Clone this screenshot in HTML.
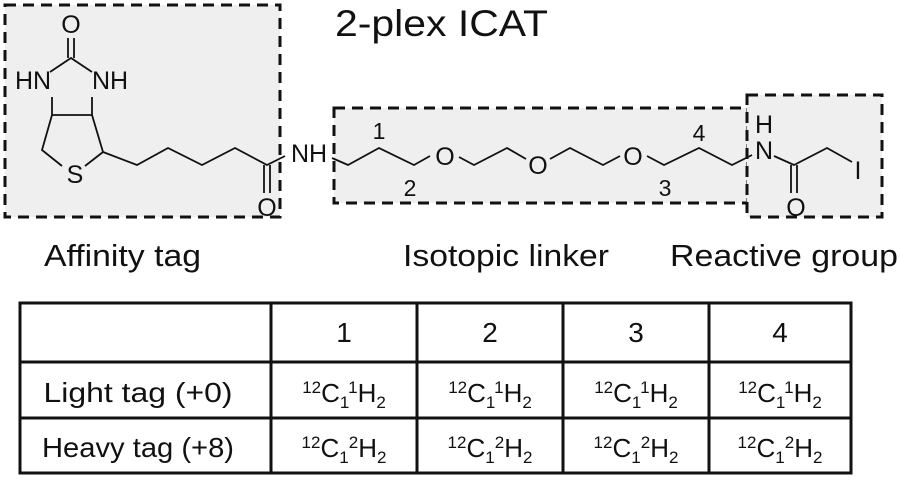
<!DOCTYPE html>
<html><head><meta charset="utf-8"><style>
html,body{margin:0;padding:0;background:#fff;}
svg{display:block;font-family:"Liberation Sans",Arial,sans-serif;}
</style></head><body>
<svg width="900" height="481" viewBox="0 0 900 481" xmlns="http://www.w3.org/2000/svg">
<g fill="#efefef" stroke="#111" stroke-width="3" stroke-dasharray="11,7">
<rect x="5" y="5" width="275" height="212"/>
<rect x="334" y="108" width="414" height="95"/>
<rect x="747" y="95" width="135" height="122"/>
</g>
<text x="335" y="36" font-size="37" fill="#111" textLength="213" lengthAdjust="spacingAndGlyphs">2-plex ICAT</text>
<g stroke="#111" stroke-width="1.8" fill="none">
<line x1="68" y1="38" x2="68" y2="58"/><line x1="74" y1="38" x2="74" y2="58"/>
<polyline points="50,72 71,58 92,72"/>
<line x1="52" y1="97" x2="52" y2="115"/><line x1="92" y1="97" x2="92" y2="115"/>
<line x1="52" y1="115" x2="92" y2="115"/>
<polyline points="52,115 42,150 62,166"/>
<polyline points="92,115 103,152 85,166"/>
<polyline points="103,152 137,165 168,148 202,165 235,148 267,165 285,156"/>
<line x1="264" y1="165" x2="264" y2="193"/><line x1="270" y1="165" x2="270" y2="193"/>
<polyline points="332,158 348,165 379,148 414,165 430,156"/>
<polyline points="459,157 474,165 507,148 526,159"/>
<polyline points="550,159 570,148 603,165 620,156"/>
<polyline points="647,156 664,165 699,148 732,165 752,155"/>
<polyline points="774,156 794,165 827,148 852,162"/>
<line x1="791" y1="165" x2="791" y2="193"/><line x1="797" y1="165" x2="797" y2="193"/>
</g>
<g font-size="25" fill="#111" text-anchor="middle">
<text x="71" y="33">O</text>
<text x="33" y="89">HN</text>
<text x="110" y="89">NH</text>
<text x="75" y="183">S</text>
<text x="267" y="216">O</text>
<text x="309" y="162">NH</text>
<text x="445" y="165">O</text>
<text x="538" y="174">O</text>
<text x="633" y="165">O</text>
<text x="764" y="133">H</text>
<text x="764" y="159">N</text>
<text x="858" y="179">I</text>
<text x="796" y="216">O</text>
<text x="379" y="139" font-size="23">1</text>
<text x="410" y="196" font-size="23">2</text>
<text x="665" y="196" font-size="23">3</text>
<text x="699" y="141" font-size="23">4</text>
</g>
<g font-size="31" fill="#111">
<text x="44" y="266" textLength="157" lengthAdjust="spacingAndGlyphs">Affinity tag</text>
<text x="403" y="266" textLength="206" lengthAdjust="spacingAndGlyphs">Isotopic linker</text>
<text x="670" y="266" textLength="228" lengthAdjust="spacingAndGlyphs">Reactive group</text>
</g>
<g stroke="#111" stroke-width="3" fill="none">
<rect x="20" y="303" width="831" height="170"/>
<line x1="20" y1="362" x2="851" y2="362"/>
<line x1="20" y1="418" x2="851" y2="418"/>
<line x1="271" y1="303" x2="271" y2="473"/>
<line x1="417" y1="303" x2="417" y2="473"/>
<line x1="563" y1="303" x2="563" y2="473"/>
<line x1="709" y1="303" x2="709" y2="473"/>
</g>
<g font-size="28" fill="#111" text-anchor="middle">
<text x="344" y="342">1</text><text x="490" y="342">2</text><text x="636" y="342">3</text><text x="780" y="342">4</text>
<text x="138" y="402" textLength="189" lengthAdjust="spacingAndGlyphs">Light tag (+0)</text>
<text x="138" y="457" textLength="192" lengthAdjust="spacingAndGlyphs">Heavy tag (+8)</text>
</g>
<g font-size="26" fill="#111" text-anchor="middle">
<text x="344" y="402"><tspan font-size="17" dy="-9">12</tspan><tspan dy="9">C</tspan><tspan font-size="17" dy="6">1</tspan><tspan font-size="17" dy="-15">1</tspan><tspan dy="9">H</tspan><tspan font-size="17" dy="6">2</tspan></text>
<text x="490" y="402"><tspan font-size="17" dy="-9">12</tspan><tspan dy="9">C</tspan><tspan font-size="17" dy="6">1</tspan><tspan font-size="17" dy="-15">1</tspan><tspan dy="9">H</tspan><tspan font-size="17" dy="6">2</tspan></text>
<text x="636" y="402"><tspan font-size="17" dy="-9">12</tspan><tspan dy="9">C</tspan><tspan font-size="17" dy="6">1</tspan><tspan font-size="17" dy="-15">1</tspan><tspan dy="9">H</tspan><tspan font-size="17" dy="6">2</tspan></text>
<text x="780" y="402"><tspan font-size="17" dy="-9">12</tspan><tspan dy="9">C</tspan><tspan font-size="17" dy="6">1</tspan><tspan font-size="17" dy="-15">1</tspan><tspan dy="9">H</tspan><tspan font-size="17" dy="6">2</tspan></text>
<text x="344" y="457"><tspan font-size="17" dy="-9">12</tspan><tspan dy="9">C</tspan><tspan font-size="17" dy="6">1</tspan><tspan font-size="17" dy="-15">2</tspan><tspan dy="9">H</tspan><tspan font-size="17" dy="6">2</tspan></text>
<text x="490" y="457"><tspan font-size="17" dy="-9">12</tspan><tspan dy="9">C</tspan><tspan font-size="17" dy="6">1</tspan><tspan font-size="17" dy="-15">2</tspan><tspan dy="9">H</tspan><tspan font-size="17" dy="6">2</tspan></text>
<text x="636" y="457"><tspan font-size="17" dy="-9">12</tspan><tspan dy="9">C</tspan><tspan font-size="17" dy="6">1</tspan><tspan font-size="17" dy="-15">2</tspan><tspan dy="9">H</tspan><tspan font-size="17" dy="6">2</tspan></text>
<text x="780" y="457"><tspan font-size="17" dy="-9">12</tspan><tspan dy="9">C</tspan><tspan font-size="17" dy="6">1</tspan><tspan font-size="17" dy="-15">2</tspan><tspan dy="9">H</tspan><tspan font-size="17" dy="6">2</tspan></text>
</g>
</svg>
</body></html>
